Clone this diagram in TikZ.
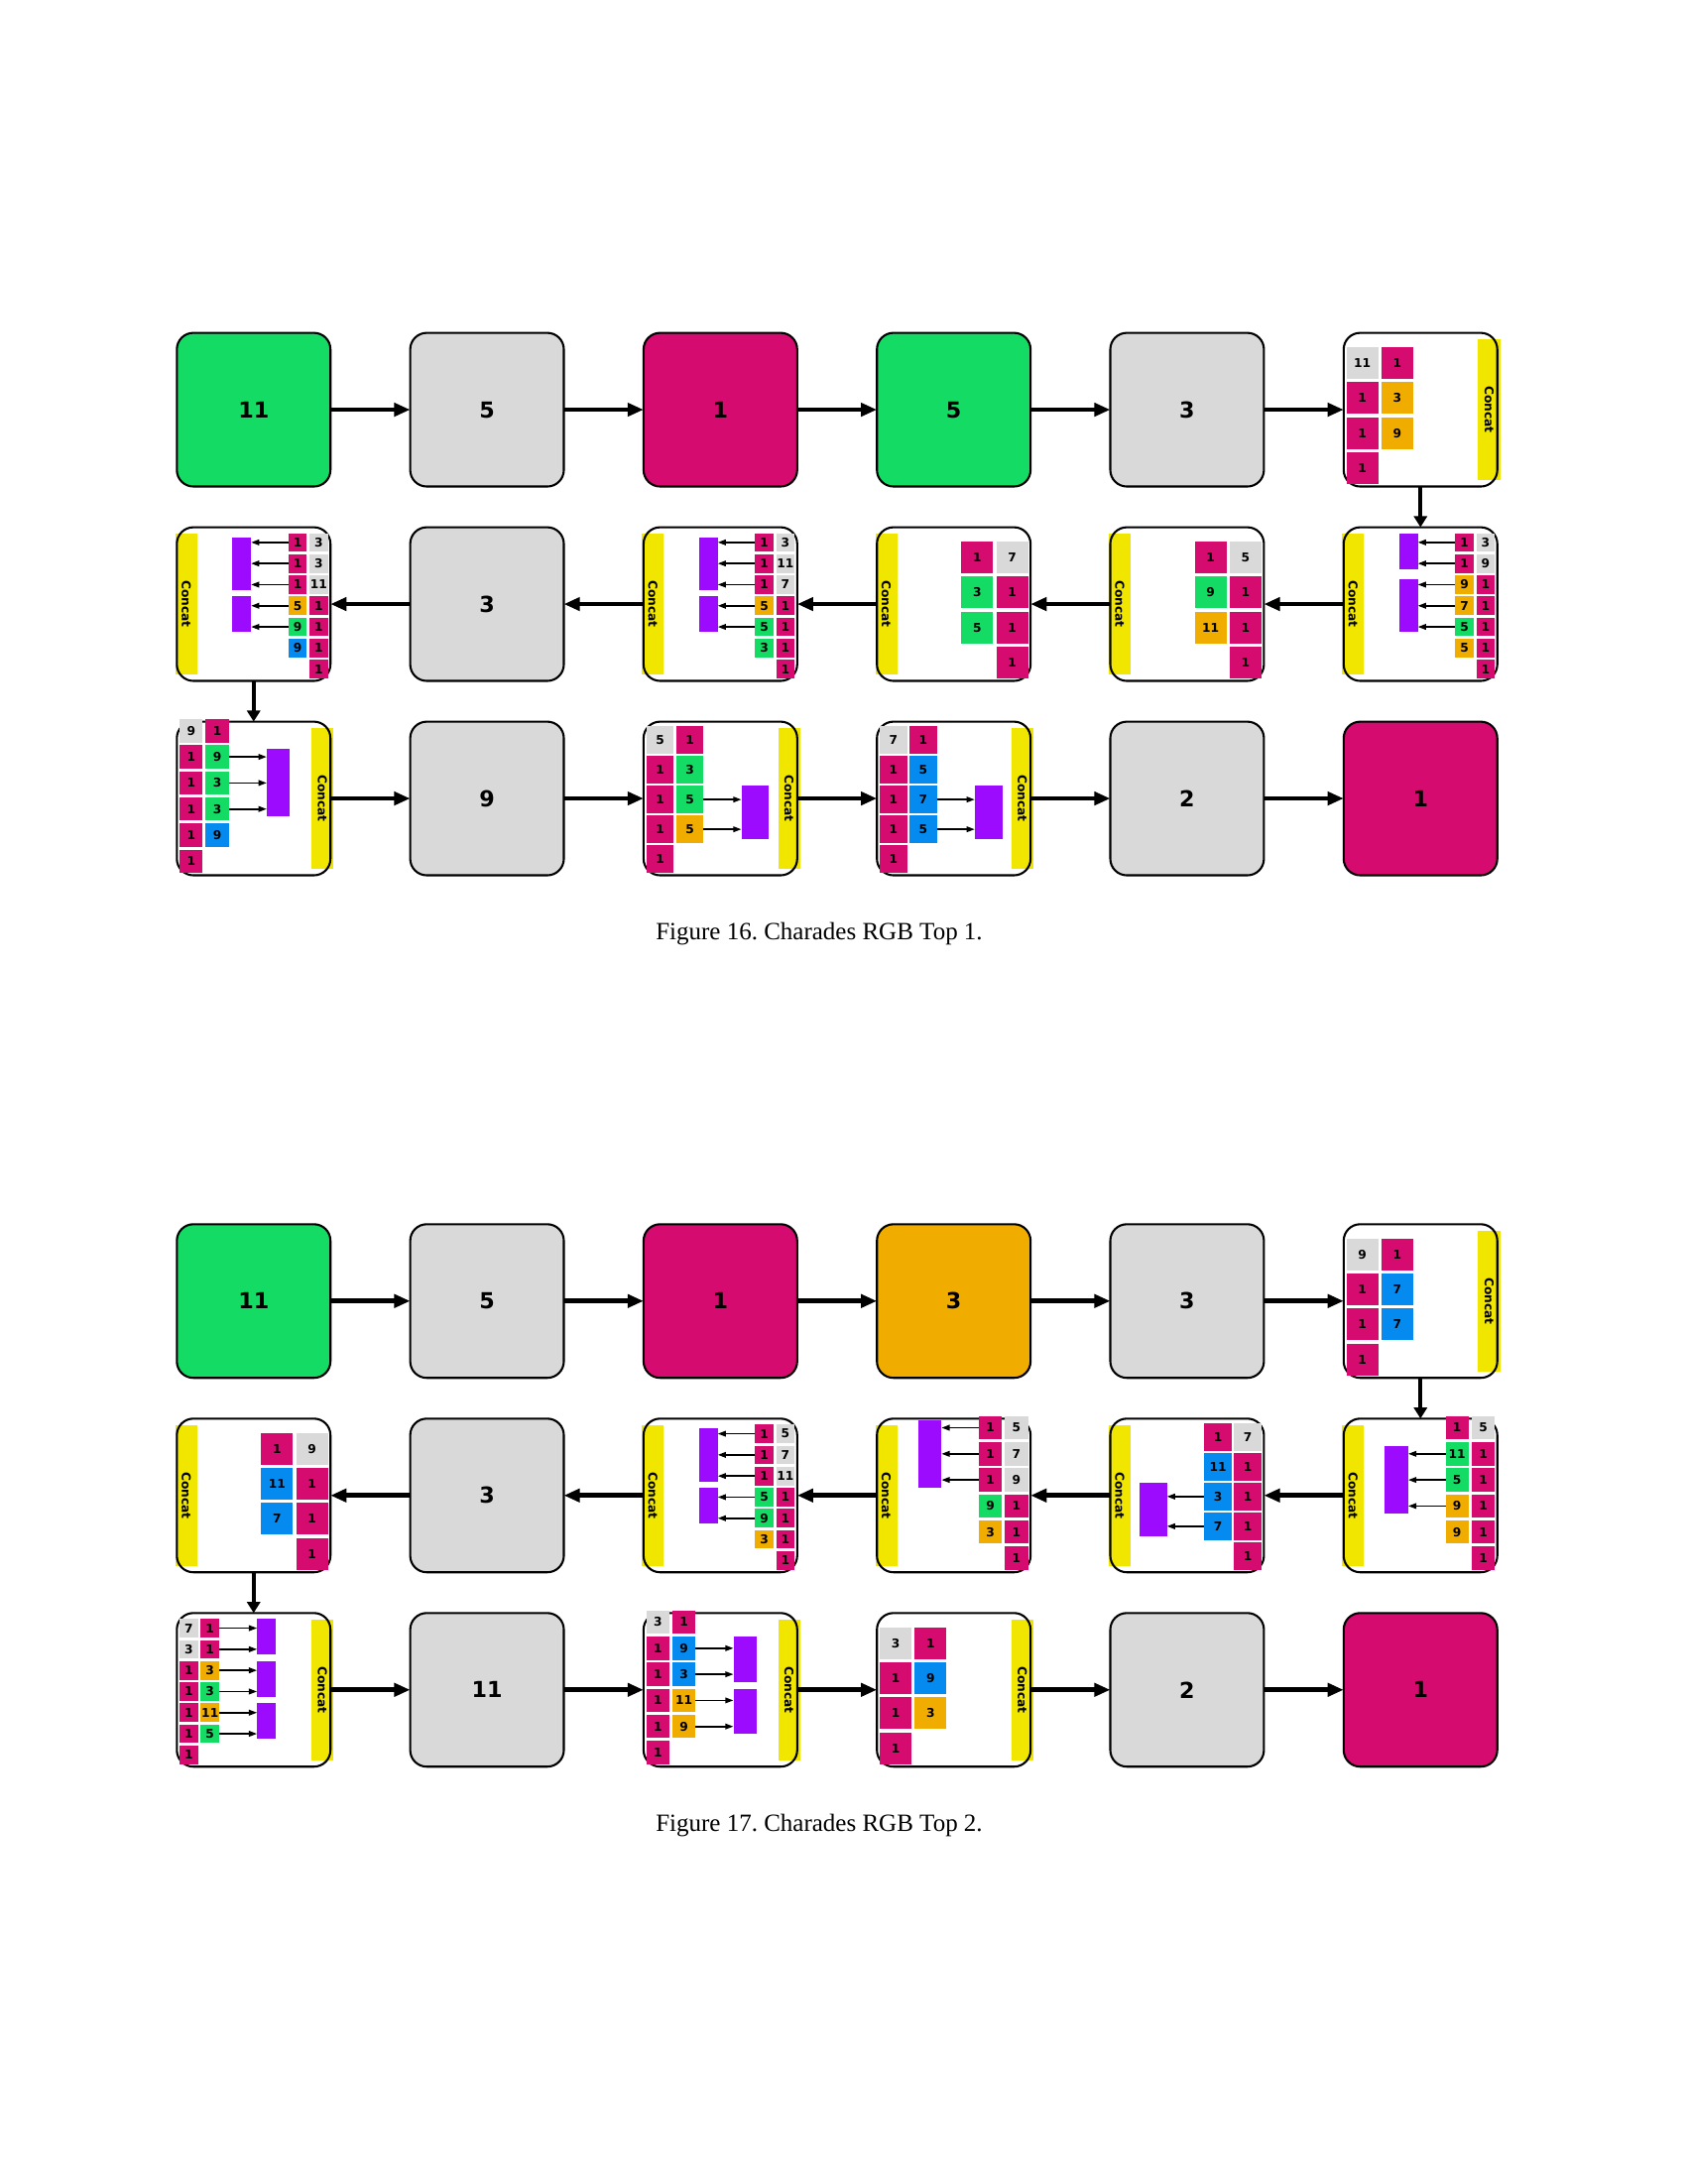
\documentclass[tikz,border=0pt]{standalone}
\usepackage{fontspec}
\setmainfont{Liberation Serif}
\newfontfamily\dejavu{DejaVu Sans}
\usepackage{tikz}
\usetikzlibrary{matrix}
\usetikzlibrary{arrows.meta}
\usetikzlibrary{backgrounds}

\definecolor{cgreen}{HTML}{13DB63}
\definecolor{cgray}{HTML}{D9D9D9}
\definecolor{cmag}{HTML}{D60B70}
\definecolor{corange}{HTML}{F0AD00}
\definecolor{cblue}{HTML}{058BF0}
\definecolor{cpurple}{HTML}{9D0BFF}
\definecolor{cyellow}{HTML}{F0E600}

\newcommand\cellfont{\dejavu\bfseries\fontsize{8}{9.6}\selectfont}
\newcommand\tilefont{\dejavu\bfseries\fontsize{4.4}{5}\selectfont}

% tile size and pitch from the number of rows, grid on the left (L) or right (R)
\newcommand\gridsize[2]{%
  \ifcase#2\or\or\or\or\def\ts{32}\def\tp{35.3}\or\def\ts{27.7}\def\tp{30}%
  \or\def\ts{23.4}\def\tp{26.3}\or\def\ts{18.7}\def\tp{21.3}\fi
  \def\gside{#1}%
  \pgfmathsetmacro\gy{152.4-(#2-1)*\tp-\ts}%
  \if#1L\def\gx{2.8}\else\pgfmathsetmacro\gx{152.4-\tp-\ts}\fi
}
\newcommand\gridcell[4]{%
  \gridsize{#2}{#3}%
  \foreach \rr/\cc/\lab/\col in {#4}
    \node[tile=\col] (#1-\rr-\cc) at ({\gx+(\cc-1)*\tp+\ts/2},{\gy+(\rr-1)*\tp+\ts/2}) {\lab};
  \begin{scope}[on background layer]
    \if#2L\def\cx{146.7}\else\def\cx{9.45}\fi
    \node[concat] (#1-cat) at (\cx,77.5) {Concat};
  \end{scope}
}
\newcommand\pool[4]{%
  \pgfmathsetmacro\ptop{\gy+(#3-1)*\tp+(#4-#3-1)*4}%
  \pgfmathsetmacro\pbot{\gy+(#4-1)*\tp+\ts-4}%
  \if\gside L\pgfmathsetmacro\pcx{\gx+\tp+\ts+38.2+\ts/2}\else\pgfmathsetmacro\pcx{\gx-37.7-\ts/2}\fi
  \node[pool, minimum width=\ts*0.36pt, minimum height=(\pbot-\ptop)*0.36pt] (#1-p#2) at (\pcx,{(\ptop+\pbot)/2}) {};
  \foreach \rr in {#3,...,#4}{%
    \if\gside L\draw[feed] (#1-\rr-2.east) -- (#1-p#2.west |- #1-\rr-2.east);
    \else\draw[feed] (#1-\rr-1.west) -- (#1-p#2.east |- #1-\rr-1.west);\fi
  }%
}

\tikzset{
  cell/.style={draw, line width=0.75pt, rounded corners=6pt, minimum size=55.77pt,
    inner sep=0pt, outer sep=0pt, anchor=center, font=\cellfont},
  tile/.style={fill=#1, minimum size=\ts*0.36pt, inner sep=0pt, outer sep=0pt, font=\tilefont},
  pool/.style={fill=cpurple, inner sep=0pt, outer sep=0pt},
  concat/.style={fill=cyellow, rotate=-90, minimum width=51.12pt, minimum height=8pt,
    inner sep=0pt, font=\tilefont},
  link/.style={line width=1.7pt, -{Triangle[length=5.8pt,width=4.7pt]}},
  drop/.style={line width=1.5pt, -{Triangle[length=4pt,width=4.7pt]}},
  feed/.style={line width=0.65pt, -{Triangle[length=3pt,width=2pt]}},
}

\begin{document}
\begin{tikzpicture}[x=0.36pt, y=-0.36pt]
  \useasboundingbox (0,0) rectangle (1700,2202);

  % Figure 16
  \matrix [
    matrix of nodes, nodes in empty cells,
    anchor=north west, inner sep=0pt,
    column sep=28.19pt, row sep=14.04pt,
    nodes={cell},
  ] (A) at (176.7,334) {
    |[fill=cgreen]| 11 & |[fill=cgray]| 5 & |[fill=cmag]| 1 & |[fill=cgreen]| 5 & |[fill=cgray]| 3 & \\
    & |[fill=cgray]| 3 & & & & \\
    & |[fill=cgray]| 9 & & & |[fill=cgray]| 2 & |[fill=cmag]| 1 \\
  };

  \begin{scope}[shift={(A-1-6.north west)}]
    \gridcell{A-1-6}{L}{4}{1/1/11/cgray, 1/2/1/cmag, 2/1/1/cmag, 2/2/3/corange,
      3/1/1/cmag, 3/2/9/corange, 4/1/1/cmag}
  \end{scope}
  \begin{scope}[shift={(A-2-6.north west)}]
    \gridcell{A-2-6}{R}{7}{1/1/1/cmag, 1/2/3/cgray, 2/1/1/cmag, 2/2/9/cgray,
      3/1/9/corange, 3/2/1/cmag, 4/1/7/corange, 4/2/1/cmag, 5/1/5/cgreen, 5/2/1/cmag,
      6/1/5/corange, 6/2/1/cmag, 7/2/1/cmag}
    \pool{A-2-6}{1}{1}{2}
    \pool{A-2-6}{2}{3}{5}
  \end{scope}
  \begin{scope}[shift={(A-2-5.north west)}]
    \gridcell{A-2-5}{R}{4}{1/1/1/cmag, 1/2/5/cgray, 2/1/9/cgreen, 2/2/1/cmag,
      3/1/11/corange, 3/2/1/cmag, 4/2/1/cmag}
  \end{scope}
  \begin{scope}[shift={(A-2-4.north west)}]
    \gridcell{A-2-4}{R}{4}{1/1/1/cmag, 1/2/7/cgray, 2/1/3/cgreen, 2/2/1/cmag,
      3/1/5/cgreen, 3/2/1/cmag, 4/2/1/cmag}
  \end{scope}
  \begin{scope}[shift={(A-2-3.north west)}]
    \gridcell{A-2-3}{R}{7}{1/1/1/cmag, 1/2/3/cgray, 2/1/1/cmag, 2/2/11/cgray,
      3/1/1/cmag, 3/2/7/cgray, 4/1/5/corange, 4/2/1/cmag, 5/1/5/cgreen, 5/2/1/cmag,
      6/1/3/cgreen, 6/2/1/cmag, 7/2/1/cmag}
    \pool{A-2-3}{1}{1}{3}
    \pool{A-2-3}{2}{4}{5}
  \end{scope}
  \begin{scope}[shift={(A-2-1.north west)}]
    \gridcell{A-2-1}{R}{7}{1/1/1/cmag, 1/2/3/cgray, 2/1/1/cmag, 2/2/3/cgray,
      3/1/1/cmag, 3/2/11/cgray, 4/1/5/corange, 4/2/1/cmag, 5/1/9/cgreen, 5/2/1/cmag,
      6/1/9/cblue, 6/2/1/cmag, 7/2/1/cmag}
    \pool{A-2-1}{1}{1}{3}
    \pool{A-2-1}{2}{4}{5}
  \end{scope}
  \begin{scope}[shift={(A-3-1.north west)}]
    \gridcell{A-3-1}{L}{6}{1/1/9/cgray, 1/2/1/cmag, 2/1/1/cmag, 2/2/9/cgreen,
      3/1/1/cmag, 3/2/3/cgreen, 4/1/1/cmag, 4/2/3/cgreen, 5/1/1/cmag, 5/2/9/cblue,
      6/1/1/cmag}
    \pool{A-3-1}{1}{2}{4}
  \end{scope}
  \begin{scope}[shift={(A-3-3.north west)}]
    \gridcell{A-3-3}{L}{5}{1/1/5/cgray, 1/2/1/cmag, 2/1/1/cmag, 2/2/3/cgreen,
      3/1/1/cmag, 3/2/5/cgreen, 4/1/1/cmag, 4/2/5/corange, 5/1/1/cmag}
    \pool{A-3-3}{1}{3}{4}
  \end{scope}
  \begin{scope}[shift={(A-3-4.north west)}]
    \gridcell{A-3-4}{L}{5}{1/1/7/cgray, 1/2/1/cmag, 2/1/1/cmag, 2/2/5/cblue,
      3/1/1/cmag, 3/2/7/cblue, 4/1/1/cmag, 4/2/5/cblue, 5/1/1/cmag}
    \pool{A-3-4}{1}{3}{4}
  \end{scope}

  \foreach \c [count=\n from 2] in {1,...,5} {
    \draw[link] (A-1-\c) -- (A-1-\n);
    \draw[link] (A-2-\n) -- (A-2-\c);
    \draw[link] (A-3-\c) -- (A-3-\n);
  }
  \draw[drop] (A-1-6) -- (A-2-6);
  \draw[drop] (A-2-1) -- (A-3-1);

  \node (capA) at (826,942) {\fontsize{9}{11}\selectfont Figure 16.\ Charades RGB Top 1.};

  % Figure 17
  \matrix [
    matrix of nodes, nodes in empty cells,
    anchor=north west, inner sep=0pt,
    column sep=28.19pt, row sep=14.04pt,
    nodes={cell},
  ] (B) at (176.7,1232.7) {
    |[fill=cgreen]| 11 & |[fill=cgray]| 5 & |[fill=cmag]| 1 & |[fill=corange]| 3 & |[fill=cgray]| 3 & \\
    & |[fill=cgray]| 3 & & & & \\
    & |[fill=cgray]| 11 & & & |[fill=cgray]| 2 & |[fill=cmag]| 1 \\
  };

  \begin{scope}[shift={(B-1-6.north west)}]
    \gridcell{B-1-6}{L}{4}{1/1/9/cgray, 1/2/1/cmag, 2/1/1/cmag, 2/2/7/cblue,
      3/1/1/cmag, 3/2/7/cblue, 4/1/1/cmag}
  \end{scope}
  \begin{scope}[shift={(B-2-6.north west)}]
    \gridcell{B-2-6}{R}{6}{1/1/1/cmag, 1/2/5/cgray, 2/1/11/cgreen, 2/2/1/cmag,
      3/1/5/cgreen, 3/2/1/cmag, 4/1/9/corange, 4/2/1/cmag, 5/1/9/corange, 5/2/1/cmag,
      6/2/1/cmag}
    \pool{B-2-6}{1}{2}{4}
  \end{scope}
  \begin{scope}[shift={(B-2-5.north west)}]
    \gridcell{B-2-5}{R}{5}{1/1/1/cmag, 1/2/7/cgray, 2/1/11/cblue, 2/2/1/cmag,
      3/1/3/cblue, 3/2/1/cmag, 4/1/7/cblue, 4/2/1/cmag, 5/2/1/cmag}
    \pool{B-2-5}{1}{3}{4}
  \end{scope}
  \begin{scope}[shift={(B-2-4.north west)}]
    \gridcell{B-2-4}{R}{6}{1/1/1/cmag, 1/2/5/cgray, 2/1/1/cmag, 2/2/7/cgray,
      3/1/1/cmag, 3/2/9/cgray, 4/1/9/cgreen, 4/2/1/cmag, 5/1/3/corange, 5/2/1/cmag,
      6/2/1/cmag}
    \pool{B-2-4}{1}{1}{3}
  \end{scope}
  \begin{scope}[shift={(B-2-3.north west)}]
    \gridcell{B-2-3}{R}{7}{1/1/1/cmag, 1/2/5/cgray, 2/1/1/cmag, 2/2/7/cgray,
      3/1/1/cmag, 3/2/11/cgray, 4/1/5/cgreen, 4/2/1/cmag, 5/1/9/cgreen, 5/2/1/cmag,
      6/1/3/corange, 6/2/1/cmag, 7/2/1/cmag}
    \pool{B-2-3}{1}{1}{3}
    \pool{B-2-3}{2}{4}{5}
  \end{scope}
  \begin{scope}[shift={(B-2-1.north west)}]
    \gridcell{B-2-1}{R}{4}{1/1/1/cmag, 1/2/9/cgray, 2/1/11/cblue, 2/2/1/cmag,
      3/1/7/cblue, 3/2/1/cmag, 4/2/1/cmag}
  \end{scope}
  \begin{scope}[shift={(B-3-1.north west)}]
    \gridcell{B-3-1}{L}{7}{1/1/7/cgray, 1/2/1/cmag, 2/1/3/cgray, 2/2/1/cmag,
      3/1/1/cmag, 3/2/3/corange, 4/1/1/cmag, 4/2/3/cgreen, 5/1/1/cmag, 5/2/11/corange,
      6/1/1/cmag, 6/2/5/cgreen, 7/1/1/cmag}
    \pool{B-3-1}{1}{1}{2}
    \pool{B-3-1}{2}{3}{4}
    \pool{B-3-1}{3}{5}{6}
  \end{scope}
  \begin{scope}[shift={(B-3-3.north west)}]
    \gridcell{B-3-3}{L}{6}{1/1/3/cgray, 1/2/1/cmag, 2/1/1/cmag, 2/2/9/cblue,
      3/1/1/cmag, 3/2/3/cblue, 4/1/1/cmag, 4/2/11/corange, 5/1/1/cmag, 5/2/9/corange,
      6/1/1/cmag}
    \pool{B-3-3}{1}{2}{3}
    \pool{B-3-3}{2}{4}{5}
  \end{scope}
  \begin{scope}[shift={(B-3-4.north west)}]
    \gridcell{B-3-4}{L}{4}{1/1/3/cgray, 1/2/1/cmag, 2/1/1/cmag, 2/2/9/cblue,
      3/1/1/cmag, 3/2/3/corange, 4/1/1/cmag}
  \end{scope}

  \foreach \c [count=\n from 2] in {1,...,5} {
    \draw[link] (B-1-\c) -- (B-1-\n);
    \draw[link] (B-2-\n) -- (B-2-\c);
    \draw[link] (B-3-\c) -- (B-3-\n);
  }
  \draw[drop] (B-1-6) -- (B-2-6);
  \draw[drop] (B-2-1) -- (B-3-1);

  \node (capB) at (826,1841) {\fontsize{9}{11}\selectfont Figure 17.\ Charades RGB Top 2.};

\end{tikzpicture}
\end{document}
